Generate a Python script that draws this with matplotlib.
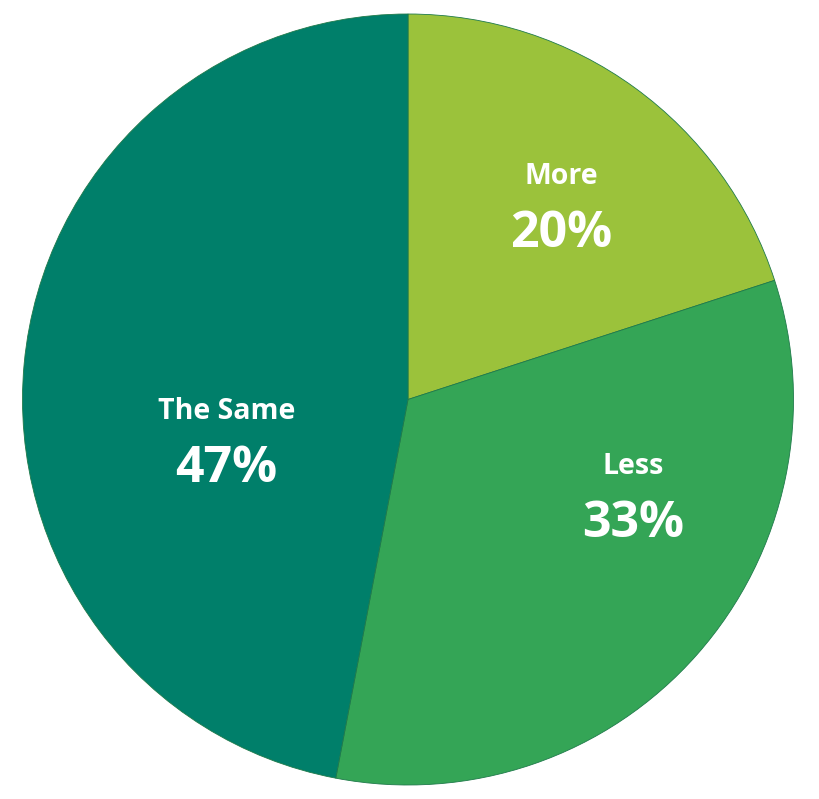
import matplotlib
matplotlib.use("Agg")
import matplotlib.pyplot as plt

categories = ["More", "Less", "The Same"]
values = [20, 33, 47]
colors = ["#9BC23B", "#34A556", "#007F6A"]

# label anchor points in axes data units (pie radius = 1)
label_pos = [(0.398, 0.505), (0.583, -0.247), (-0.471, -0.104)]

fig = plt.figure(figsize=(8.2, 7.99), dpi=100)
ax = fig.add_axes([22.5 / 820, 14 / 799, 771 / 820, 771 / 799])
ax.pie(values, colors=colors, startangle=90, counterclock=False,
       radius=1.0, center=(0, 0),
       wedgeprops=dict(edgecolor="#1f7a4a", linewidth=0.6))
ax.set_xlim(-1.0, 1.0)
ax.set_ylim(-1.0, 1.0)
ax.set_aspect("auto")
ax.axis("off")

for cat, val, (x, y) in zip(categories, values, label_pos):
    ax.text(x, y + 0.073, cat, ha="center", va="center", color="white",
            fontsize=20.5, fontweight="bold", family="Open Sans")
    ax.text(x, y - 0.076, f"{val}%", ha="center", va="center", color="white",
            fontsize=36, fontweight="bold", family="Open Sans")

fig.savefig("out.png", dpi=100)
